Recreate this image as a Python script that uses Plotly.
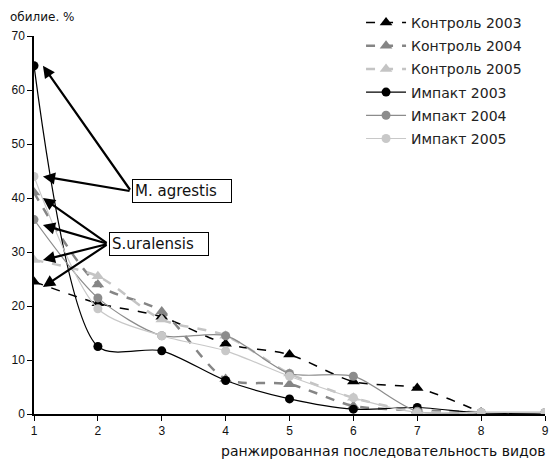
import plotly.graph_objects as go

ranks = [1, 2, 3, 4, 5, 6, 7, 8, 9]

kontrol_2003 = [24.5, 20.5, 18.0, 13.0, 11.0, 6.0, 4.8, 0.3]
kontrol_2004 = [41.0, 24.0, 19.0, 6.5, 5.5, 1.5, 0.7, 0.3]
kontrol_2005 = [28.5, 25.5, 17.5, 14.5, 7.5, 3.0, 0.5, 0.3]
impakt_2003 = [64.5, 12.5, 11.7, 6.2, 2.8, 0.9, 1.2, 0.2, 0.2]
impakt_2004 = [36.0, 21.5, 14.5, 14.5, 7.5, 7.0, 0.5, 0.3, 0.3]
impakt_2005 = [44.0, 19.5, 14.5, 11.7, 7.0, 3.0, 0.3, 0.3, 0.3]

series = [
    ("Контроль 2003", kontrol_2003, "#000000", "dash", 1.5, "triangle-up", 11),
    ("Контроль 2004", kontrol_2004, "#858585", "dash", 2.5, "triangle-up", 11),
    ("Контроль 2005", kontrol_2005, "#c4c4c4", "dash", 2.5, "triangle-up", 11),
    ("Импакт 2003", impakt_2003, "#000000", "solid", 1.2, "circle", 9),
    ("Импакт 2004", impakt_2004, "#8c8c8c", "solid", 1.2, "circle", 9),
    ("Импакт 2005", impakt_2005, "#c8c8c8", "solid", 1.2, "circle", 9),
]

fig = go.Figure()
for name, vals, color, dash, width, symbol, msize in series:
    fig.add_trace(go.Scatter(
        x=ranks[:len(vals)], y=vals, name=name, legendgroup=name,
        mode="lines+markers",
        line=dict(color=color, dash=dash, width=width, shape="spline", smoothing=0.8),
        marker=dict(symbol=symbol, size=msize, color=color),
    ))

# arrows to the first-rank points
agrestis_targets = [impakt_2003[0], impakt_2005[0]]
uralensis_targets = [kontrol_2004[0] - 1, impakt_2004[0] - 1, kontrol_2005[0], kontrol_2003[0] - 1]
for yv in agrestis_targets:
    fig.add_annotation(x=1.14, y=yv, ax=2.52, ay=41.25, axref="x", ayref="y",
                       xref="x", yref="y", showarrow=True, arrowhead=2,
                       arrowsize=1.1, arrowwidth=2.2, arrowcolor="#000000", text="")
for yv in uralensis_targets:
    fig.add_annotation(x=1.14, y=yv, ax=2.16, ay=31.5, axref="x", ayref="y",
                       xref="x", yref="y", showarrow=True, arrowhead=2,
                       arrowsize=1.1, arrowwidth=2.2, arrowcolor="#000000", text="")

fig.add_annotation(x=2.53, y=41.25, xref="x", yref="y", text="M. agrestis",
                   showarrow=False, xanchor="left", yanchor="middle", width=94, align="left",
                   font=dict(family="DejaVu Sans", size=15, color="#111111"), bgcolor="white",
                   bordercolor="#000000", borderwidth=1, borderpad=2)
fig.add_annotation(x=2.17, y=31.5, xref="x", yref="y", text="S.uralensis",
                   showarrow=False, xanchor="left", yanchor="middle", width=94, align="left",
                   font=dict(family="DejaVu Sans", size=15, color="#111111"), bgcolor="white",
                   bordercolor="#000000", borderwidth=1, borderpad=2)

fig.add_annotation(x=0, y=1, xref="paper", yref="paper", xshift=-26, yshift=28,
                   text="обилие. %", showarrow=False, xanchor="left", yanchor="top",
                   font=dict(family="DejaVu Sans", size=12, color="#111111"))
fig.add_annotation(x=1, y=0, xref="paper", yref="paper", yshift=-27, xshift=3,
                   text="ранжированная последовательность видов", showarrow=False,
                   xanchor="right", yanchor="top",
                   font=dict(family="DejaVu Sans", size=14, color="#111111"))

fig.update_layout(
    width=550, height=462,
    margin=dict(l=34, r=5, t=36, b=48, autoexpand=False),
    paper_bgcolor="white", plot_bgcolor="white",
    font=dict(family="Liberation Sans, Arial, sans-serif", size=12, color="#111111"),
    showlegend=True,
    legend=dict(x=0.64, y=1.077, xanchor="left", yanchor="top",
                font=dict(family="DejaVu Sans", size=14, color="#222222"),
                bgcolor="rgba(0,0,0,0)", itemwidth=40, tracegroupgap=2),
)
fig.update_xaxes(range=[1, 9], tickvals=ranks, showgrid=False, zeroline=False,
                 showline=True, linecolor="#000000", linewidth=1.5, automargin=False,
                 ticklabeloverflow="allow",
                 ticks="outside", ticklen=5, tickcolor="#000000")
fig.update_yaxes(range=[0, 70], dtick=10, showgrid=False, zeroline=False,
                 showline=True, linecolor="#000000", linewidth=1.5, automargin=False,
                 ticklabeloverflow="allow",
                 ticks="outside", ticklen=5, tickcolor="#000000")

fig.write_html("out.html", config={"displayModeBar": False},
               post_script="document.body.style.margin='0';document.body.style.overflow='hidden';")
